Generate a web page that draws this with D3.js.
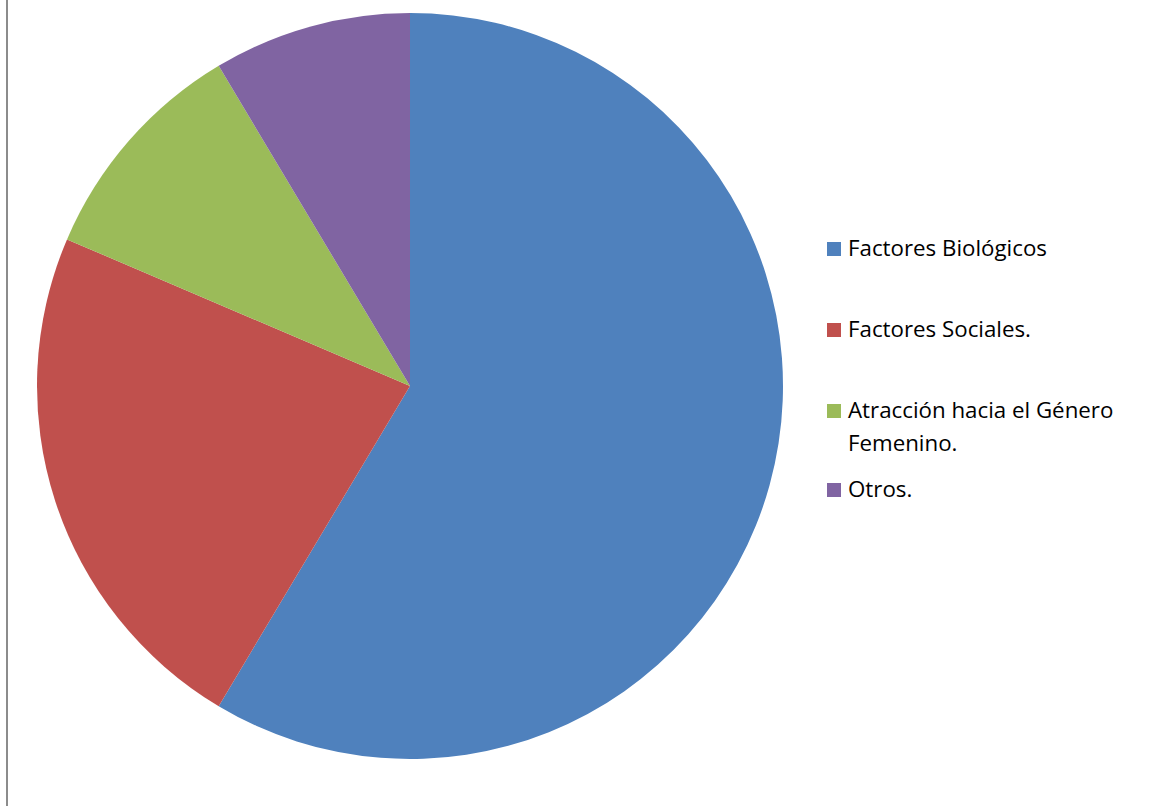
<!DOCTYPE html>
<html>
<head>
<meta charset="utf-8">
<script src="https://cdn.jsdelivr.net/npm/d3@7"></script>
<style>
  html, body { margin: 0; padding: 0; background: #fff; }
  svg { display: block; }
</style>
</head>
<body>
<svg id="chart" width="1149" height="806"></svg>
<script>
// Categories and their counts
const categories = [
  "Factores Biológicos",
  "Factores Sociales.",
  "Atracción hacia el Género Femenino.",
  "Otros."
];
const values = [41, 16, 7, 6];
const colors = ["#4F81BD", "#C0504D", "#9BBB59", "#8064A2"];
// Legend text, split into displayed lines
const legendLines = [
  ["Factores Biológicos"],
  ["Factores Sociales."],
  ["Atracción hacia el Género", "Femenino."],
  ["Otros."]
];

const svg = d3.select("#chart");

// Frame line on the left side
svg.append("line")
  .attr("x1", 7).attr("x2", 7)
  .attr("y1", 0).attr("y2", 806)
  .attr("stroke", "#8c8c8c")
  .attr("stroke-width", 2);

const cx = 410, cy = 386, radius = 373;

const data = categories.map((c, i) => ({ name: c, value: values[i], color: colors[i] }));

const pie = d3.pie().value(d => d.value).sort(null);
const arc = d3.arc().innerRadius(0).outerRadius(radius);

svg.append("g")
  .attr("transform", `translate(${cx},${cy})`)
  .selectAll("path")
  .data(pie(data))
  .join("path")
  .attr("d", arc)
  .attr("fill", d => d.data.color);

// Legend: baseline of each entry's first line
const legendBase = [256, 337, 418, 497];
const legend = svg.append("g").attr("font-family", "'Open Sans', sans-serif")
  .attr("font-size", 22.3).attr("fill", "#000");

data.forEach((d, i) => {
  const g = legend.append("g");
  g.append("rect")
    .attr("x", 827).attr("y", legendBase[i] - 14)
    .attr("width", 14).attr("height", 14)
    .attr("fill", d.color);
  legendLines[i].forEach((line, j) => {
    g.append("text")
      .attr("x", 848)
      .attr("y", legendBase[i] + j * 33)
      .text(line);
  });
});
</script>
</body>
</html>
